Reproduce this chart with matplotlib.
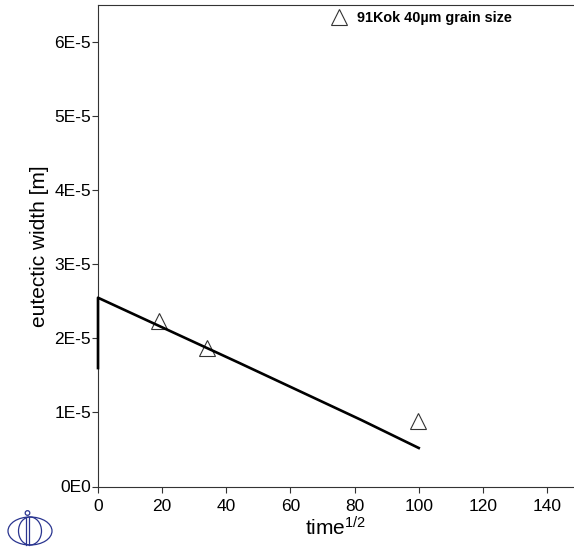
import matplotlib
matplotlib.use('Agg')
import matplotlib.pyplot as plt
from matplotlib.patches import Ellipse, Circle

# simulated eutectic width vs. square root of time
sim_time = [0, 0, 44, 82, 100]
sim_width = [1.6e-5, 2.55e-5, 1.67e-5, 0.90e-5, 0.52e-5]

# experimental points, 91Kok 40um grain size
exp_time = [18.9, 34.0, 99.8]
exp_width = [2.23e-5, 1.87e-5, 0.89e-5]

x_ticks = [0, 20, 40, 60, 80, 100, 120, 140]
y_ticks = [0, 1e-5, 2e-5, 3e-5, 4e-5, 5e-5, 6e-5]
y_tick_labels = ['0E0', '1E-5', '2E-5', '3E-5', '4E-5', '5E-5', '6E-5']

plt.rcParams['font.family'] = ['Liberation Sans', 'DejaVu Sans']
plt.rcParams['mathtext.default'] = 'regular'

W, H = 574, 547
fig = plt.figure(figsize=(W / 100, H / 100), dpi=100)
ax = fig.add_axes([98 / W, 1 - 486.5 / H, 476 / W, 481.2 / H])

ax.plot(sim_time, sim_width, color='black', lw=1.9, clip_on=False, zorder=5)
ax.plot(exp_time, exp_width, ls='none', marker='^', ms=11, mfc='none',
        mec='#333333', mew=0.8, label='91Kok 40\u00b5m grain size')

ax.set_xlim(0, 148.4)
ax.set_ylim(0, 6.5e-5)
ax.set_xticks(x_ticks)
ax.set_yticks(y_ticks)
ax.set_yticklabels(y_tick_labels)
ax.tick_params(direction='out', length=4, width=0.8, colors='#333333',
               labelcolor='black', labelsize=12.5)
ax.tick_params(axis='y', pad=1)
ax.tick_params(axis='x', pad=5)

ax.spines['right'].set_visible(False)
for s in ['left', 'bottom', 'top']:
    ax.spines[s].set_color('#333333')
    ax.spines[s].set_linewidth(0.8)

ax.set_xlabel('time$^{1/2}$', fontsize=15, labelpad=2)
ax.set_ylabel('eutectic width [m]', fontsize=15)
ax.yaxis.set_label_coords(-0.102, 0.5)

ax.legend(loc='upper left', bbox_to_anchor=(0.466, 1.01), frameon=False,
          handlelength=1.2, handletextpad=0.7, borderpad=0.2,
          prop={'weight': 'bold', 'size': 10.4})

# logo in the lower left corner, drawn in pixel coordinates
logo = fig.add_axes([0, 0, 1, 1], zorder=-1)
logo.set_xlim(0, W)
logo.set_ylim(H, 0)
logo.axis('off')
blue = '#2a3590'
logo.add_patch(Ellipse((30, 531), 44, 28, fill=False, ec=blue, lw=0.9))
logo.add_patch(Ellipse((30, 531), 23, 28, fill=False, ec=blue, lw=0.9))
logo.plot([25.7, 25.7], [517, 545], color=blue, lw=0.9)
logo.plot([29.3, 29.3], [517, 545], color=blue, lw=0.9)
logo.add_patch(Circle((27.5, 513), 2.3, fill=False, ec=blue, lw=0.9))

fig.savefig('out.png', dpi=100)
